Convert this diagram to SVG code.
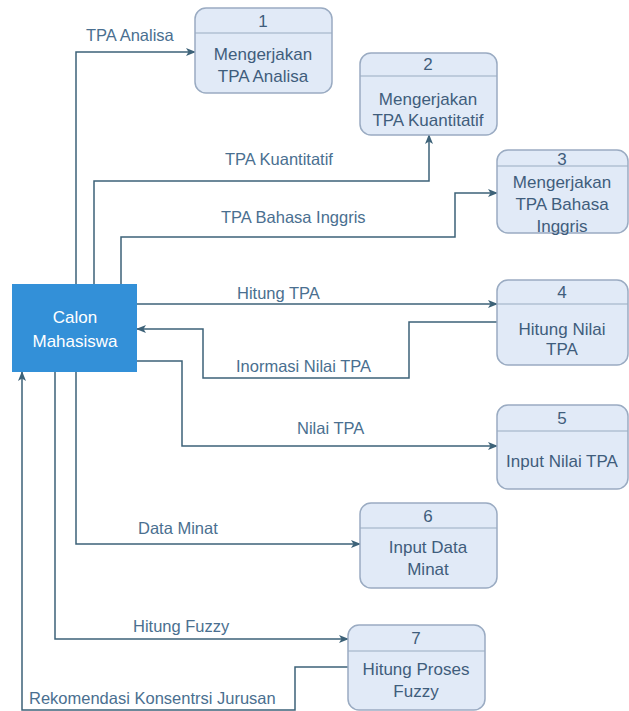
<svg xmlns="http://www.w3.org/2000/svg" width="629" height="711" viewBox="0 0 629 711">
<defs>
<marker id="arr" markerWidth="10" markerHeight="8" refX="9" refY="4" orient="auto" markerUnits="userSpaceOnUse">
<path d="M0,0 L10,4 L0,8 L2.5,4 Z" fill="#3d6278"/>
</marker>
<style>
.conn{fill:none;stroke:#3d6278;stroke-width:1.5;marker-end:url(#arr)}
.nd rect{fill:#e1eaf7;stroke:#9aabc2;stroke-width:1.5}
.nd line{stroke:#9aabc2;stroke-width:1.2}
.nt{font-family:"Liberation Sans",Arial,sans-serif;font-size:17px;fill:#3f5d7c;text-anchor:middle}
.lb{font-family:"Liberation Sans",Arial,sans-serif;font-size:16.5px;fill:#4a6f90}
.ent{font-family:"Liberation Sans",Arial,sans-serif;font-size:17px;fill:#ffffff;text-anchor:middle}
</style>
</defs>
<rect width="629" height="711" fill="#ffffff"/>
<g id="connectors">
<path class="conn" d="M76,284 V52 H195"/>
<path class="conn" d="M94,284 V181 H429 V135"/>
<path class="conn" d="M121,284 V237 H455 V193 H497"/>
<path class="conn" d="M137,304 H497"/>
<path class="conn" d="M497,322 H409 V378 H203 V329 H137"/>
<path class="conn" d="M137,361 H182 V446 H497"/>
<path class="conn" d="M76,372 V544 H360"/>
<path class="conn" d="M55,372 V639 H348"/>
<path class="conn" d="M348,667 H295 V710 H22 V372"/>
</g>
<g id="labels">
<text class="lb" x="86" y="41">TPA Analisa</text>
<text class="lb" x="225" y="165">TPA Kuantitatif</text>
<text class="lb" x="221" y="223">TPA Bahasa Inggris</text>
<text class="lb" x="237" y="299">Hitung TPA</text>
<text class="lb" x="236" y="372">Inormasi Nilai TPA</text>
<text class="lb" x="297" y="434">Nilai TPA</text>
<text class="lb" x="138" y="534">Data Minat</text>
<text class="lb" x="133" y="632">Hitung Fuzzy</text>
<text class="lb" x="29" y="704">Rekomendasi Konsentrsi Jurusan</text>
</g>
<g id="calon">
<rect x="12" y="284" width="125" height="88" fill="#3390d8"/>
<text class="ent" x="75" y="323">Calon</text>
<text class="ent" x="75" y="347">Mahasiswa</text>
</g>
<g id="n1" class="nd">
<rect x="195" y="8" width="137" height="85" rx="11"/>
<line x1="195" y1="33" x2="332" y2="33"/>
<text class="nt" x="263" y="27">1</text>
<text class="nt" x="263" y="60">Mengerjakan</text>
<text class="nt" x="263" y="82">TPA Analisa</text>
</g>
<g id="n2" class="nd">
<rect x="360" y="53" width="137" height="82" rx="11"/>
<line x1="360" y1="76" x2="497" y2="76"/>
<text class="nt" x="428" y="70">2</text>
<text class="nt" x="428" y="105">Mengerjakan</text>
<text class="nt" x="428" y="126">TPA Kuantitatif</text>
</g>
<g id="n3" class="nd">
<rect x="497" y="150" width="131" height="83" rx="11"/>
<line x1="497" y1="166" x2="628" y2="166"/>
<text class="nt" x="562" y="165">3</text>
<text class="nt" x="562" y="188">Mengerjakan</text>
<text class="nt" x="562" y="210">TPA Bahasa</text>
<text class="nt" x="562" y="232">Inggris</text>
</g>
<g id="n4" class="nd">
<rect x="497" y="280" width="131" height="85" rx="11"/>
<line x1="497" y1="304" x2="628" y2="304"/>
<text class="nt" x="562" y="298">4</text>
<text class="nt" x="562" y="335">Hitung Nilai</text>
<text class="nt" x="562" y="355">TPA</text>
</g>
<g id="n5" class="nd">
<rect x="497" y="405" width="131" height="84" rx="11"/>
<line x1="497" y1="431" x2="628" y2="431"/>
<text class="nt" x="562" y="424">5</text>
<text class="nt" x="562" y="467">Input Nilai TPA</text>
</g>
<g id="n6" class="nd">
<rect x="360" y="503" width="137" height="85" rx="11"/>
<line x1="360" y1="528" x2="497" y2="528"/>
<text class="nt" x="428" y="522">6</text>
<text class="nt" x="428" y="553">Input Data</text>
<text class="nt" x="428" y="575">Minat</text>
</g>
<g id="n7" class="nd">
<rect x="348" y="625" width="137" height="85" rx="11"/>
<line x1="348" y1="651" x2="485" y2="651"/>
<text class="nt" x="416" y="644">7</text>
<text class="nt" x="416" y="675">Hitung Proses</text>
<text class="nt" x="416" y="697">Fuzzy</text>
</g>
</svg>
